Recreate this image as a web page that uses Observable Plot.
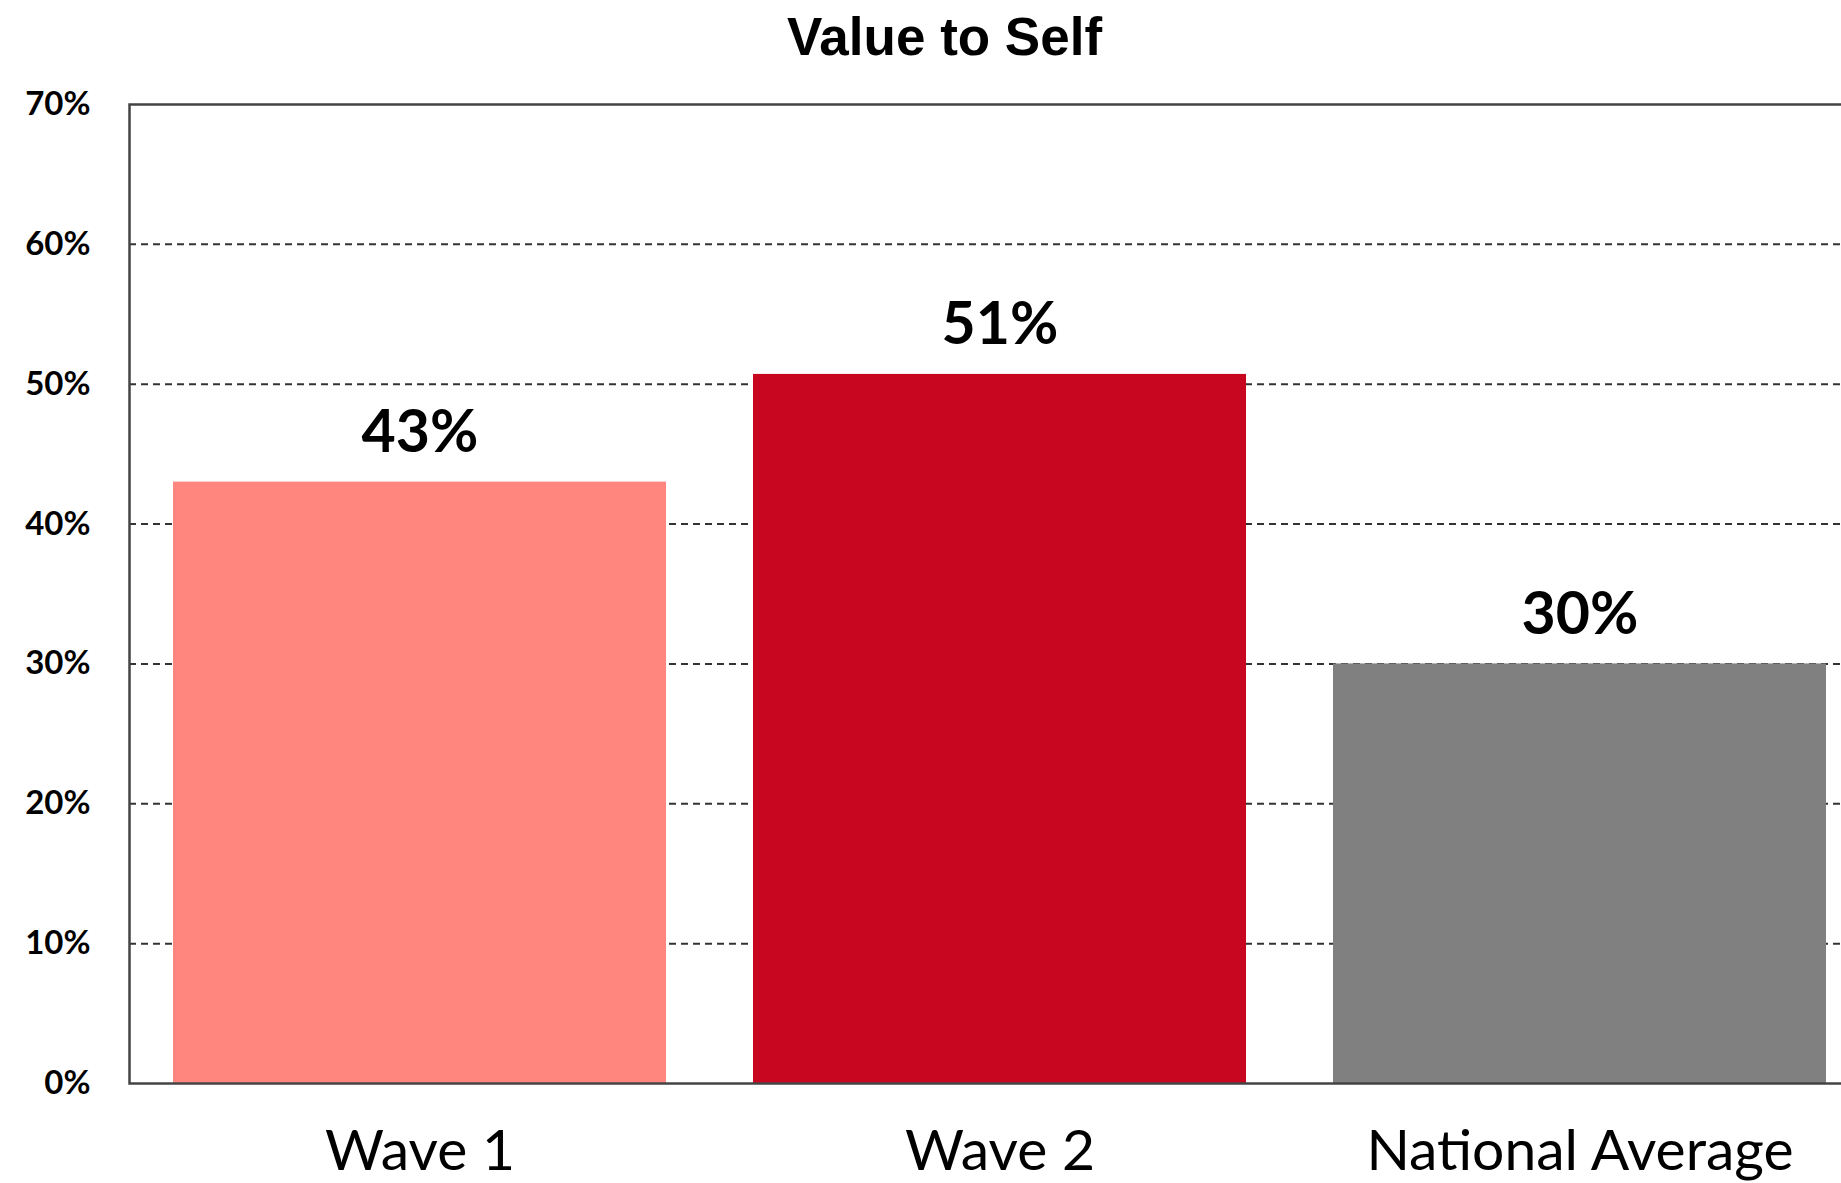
<!DOCTYPE html>
<html>
<head>
<meta charset="utf-8">
<script src="https://cdn.jsdelivr.net/npm/d3@7"></script>
<script src="https://cdn.jsdelivr.net/npm/@observablehq/plot@0.6"></script>
<style>
  html, body { margin: 0; padding: 0; background: #fff; overflow: hidden; width: 1841px; height: 1183px; }
  #title { position: absolute; top: 10px; left: 944.5px; transform: translateX(-50%); font-family: "Liberation Sans", Arial, sans-serif; font-weight: bold; font-size: 53px; line-height: 53px; white-space: nowrap; color: #000; }
  #chart { position: absolute; top: 60px; left: 0; width: 1841px; height: 1123px; overflow: hidden; }
  #chart svg { overflow: hidden !important; }
</style>
</head>
<body>
<div id="title">Value to Self</div>
<div id="chart"></div>
<script>
const categories = ["Wave 1", "Wave 2", "National Average"];
const values = [43, 50.7, 30];
const valueLabels = ["43%", "51%", "30%"];
const barColors = ["#FF867E", "#C8061F", "#808080"];
const yTicks = [0, 10, 20, 30, 40, 50, 60, 70];
const gridTicks = [10, 20, 30, 40, 50, 60];

const data = categories.map((c, i) => ({cat: c, value: values[i], label: valueLabels[i]}));

const chart = Plot.plot({
  width: 1841,
  height: 1123,
  marginTop: 44,
  marginBottom: 100,
  marginLeft: 129,
  marginRight: -28,
  style: {fontFamily: "Lato, sans-serif", background: "white"},
  x: {domain: categories, paddingInner: 0.15, paddingOuter: 0.075, label: null},
  y: {domain: [0, 70], label: null},
  color: {domain: categories, range: barColors},
  marks: [
    Plot.ruleY(gridTicks, {stroke: "#333", strokeWidth: 2, strokeDasharray: "7,5"}),
    Plot.barY(data, {x: "cat", y: "value", fill: "cat"}),
    Plot.frame({stroke: "#444", strokeWidth: 2.5}),
    Plot.text(data, {x: "cat", y: "value", text: "label", lineAnchor: "bottom", dy: -30, fontSize: 59, fontWeight: "bold", fontFamily: "Lato", fill: "#000"}),
    Plot.axisY({ticks: yTicks, tickFormat: d => d + "%", tickSize: 0, tickPadding: 39, fontSize: 33, fontWeight: "bold", fontFamily: "Lato", label: null, fill: "#000"}),
    Plot.axisX({tickSize: 0, tickPadding: 46, fontSize: 57, fontFamily: "Lato", label: null, fill: "#000"})
  ]
});
document.getElementById("chart").appendChild(chart);
</script>
</body>
</html>
